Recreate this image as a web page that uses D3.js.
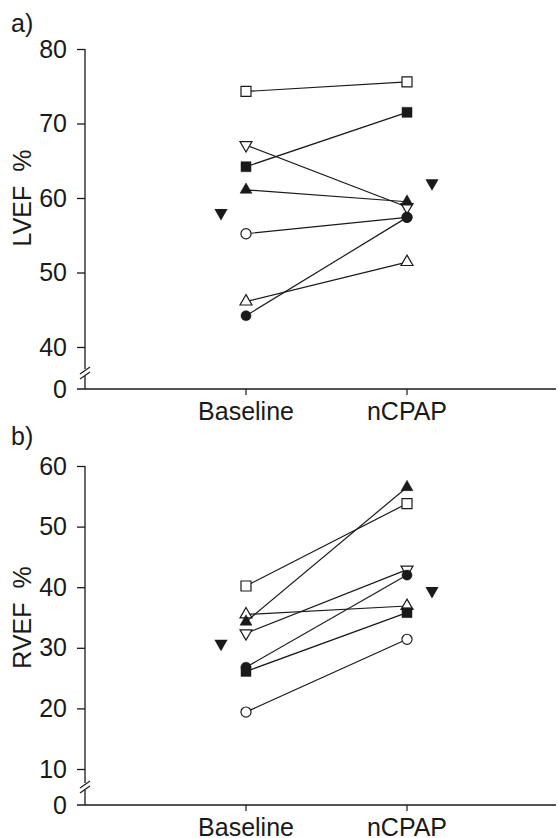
<!DOCTYPE html>
<html>
<head>
<meta charset="utf-8">
<script src="https://cdn.jsdelivr.net/npm/d3@7"></script>
<style>
  body { margin: 0; background: #fff; }
  svg { display: block; font-family: "Liberation Sans Narrow", "Arial Narrow", sans-serif; }
  text { fill: #1a1a1a; }
</style>
</head>
<body>
<svg id="chart" width="558" height="838"></svg>
<script>
// ---- data ----
const categories = ["Baseline", "nCPAP"];
const markers = ["openSquare", "filledSquare", "openDown", "filledUp", "openCircle", "openUp", "filledCircle"];

const lvefBaseline = [74.3, 64.2, 67.1, 61.1, 55.2, 46.1, 44.2];
const lvefCpap     = [75.6, 71.5, 58.8, 59.5, 57.4, 51.4, 57.4];
const lvefMean     = [58.0, 62.0];
const lvefTicks    = [40, 50, 60, 70, 80];

const rvefBaseline = [40.2, 26.1, 32.4, 34.3, 19.4, 35.5, 26.8];
const rvefCpap     = [53.8, 35.8, 42.9, 56.5, 31.4, 36.9, 42.0];
const rvefMean     = [30.7, 39.4];
const rvefTicks    = [10, 20, 30, 40, 50, 60];

const INK = "#1a1a1a";
const FS = 25;
const svg = d3.select("#chart");

const x = d3.scalePoint().domain(categories).range([246, 407]);
const MEAN_OFFSET = 25;

function symbolFor(name) {
  if (name.endsWith("Square")) return { type: d3.symbolSquare, size: 100, rot: 0 };
  if (name.endsWith("Circle")) return { type: d3.symbolCircle, size: 80, rot: 0 };
  if (name.endsWith("Up"))     return { type: d3.symbolTriangle, size: 62, rot: 0 };
  return { type: d3.symbolTriangle, size: 62, rot: 180 };
}

function drawPanel(cfg) {
  const g = svg.append("g");
  const y = d3.scaleLinear().domain(cfg.domain).range(cfg.range);
  const axisX = 85;

  // y axis (ticks + labels)
  const yAxis = d3.axisLeft(y).tickValues(cfg.ticks).tickSize(8).tickPadding(10).tickSizeOuter(0);
  const ya = g.append("g").attr("transform", `translate(${axisX},0)`).call(yAxis);
  ya.select(".domain").remove();
  ya.selectAll("line").attr("stroke", INK).attr("stroke-width", 1.3);
  ya.selectAll("text").attr("font-size", FS).attr("fill", INK).attr("font-family", null);

  // axis spine down to zero, with a break
  const topY = y(cfg.domain[1]);
  const brk = cfg.breakY;
  g.append("line").attr("x1", axisX).attr("x2", axisX).attr("y1", topY).attr("y2", brk - 4)
    .attr("stroke", INK).attr("stroke-width", 1.3);
  g.append("line").attr("x1", axisX).attr("x2", axisX).attr("y1", brk + 3).attr("y2", cfg.zeroY)
    .attr("stroke", INK).attr("stroke-width", 1.3);
  [-2.5, 2.5].forEach(d => {
    g.append("line")
      .attr("x1", axisX - 5).attr("y1", brk + d + 3.5)
      .attr("x2", axisX + 5).attr("y2", brk + d - 3.5)
      .attr("stroke", INK).attr("stroke-width", 1.2);
  });

  // x axis
  g.append("line").attr("x1", axisX - 8).attr("x2", 556).attr("y1", cfg.zeroY).attr("y2", cfg.zeroY)
    .attr("stroke", INK).attr("stroke-width", 1.3);
  g.append("text").attr("x", axisX - 18).attr("y", cfg.zeroY).attr("dy", "0.35em")
    .attr("text-anchor", "end").attr("font-size", FS).text("0");
  categories.forEach(c => {
    g.append("line").attr("x1", x(c)).attr("x2", x(c)).attr("y1", cfg.zeroY).attr("y2", cfg.zeroY + 6)
      .attr("stroke", INK).attr("stroke-width", 1.2);
    g.append("text").attr("x", x(c)).attr("y", cfg.zeroY + 31)
      .attr("text-anchor", "middle").attr("font-size", FS).text(c);
  });

  // y label + panel letter
  const midY = (y(cfg.ticks[0]) + y(cfg.ticks[cfg.ticks.length - 1])) / 2;
  g.append("text").attr("transform", `translate(31,${midY}) rotate(-90)`)
    .attr("text-anchor", "middle").attr("font-size", FS)
    .style("white-space", "pre").text(cfg.label);
  g.append("text").attr("x", 11).attr("y", cfg.letterY).attr("font-size", FS).text(cfg.letter);

  // paired lines
  const pairs = markers.map((m, i) => ({ m, a: cfg.base[i], b: cfg.cpap[i] }));
  g.append("g").selectAll("line").data(pairs).join("line")
    .attr("x1", x(categories[0])).attr("x2", x(categories[1]))
    .attr("y1", d => y(d.a)).attr("y2", d => y(d.b))
    .attr("stroke", INK).attr("stroke-width", 1.2);

  // markers: open first, filled on top
  const pts = [];
  pairs.forEach(p => {
    pts.push({ m: p.m, cx: x(categories[0]), v: p.a });
    pts.push({ m: p.m, cx: x(categories[1]), v: p.b });
  });
  pts.sort((p, q) => (p.m.startsWith("filled") ? 1 : 0) - (q.m.startsWith("filled") ? 1 : 0));
  g.append("g").selectAll("path").data(pts).join("path")
    .attr("d", d => d3.symbol().type(symbolFor(d.m).type).size(symbolFor(d.m).size)())
    .attr("transform", d => `translate(${d.cx},${y(d.v)}) rotate(${symbolFor(d.m).rot})`)
    .attr("fill", d => d.m.startsWith("filled") ? INK : "#fff")
    .attr("stroke", INK).attr("stroke-width", d => d.m.startsWith("filled") ? 0.5 : 1.2);

  // group means (filled inverted triangles, set beside the columns)
  g.append("g").selectAll("path").data(cfg.mean).join("path")
    .attr("d", d3.symbol().type(d3.symbolTriangle).size(75)())
    .attr("transform", (d, i) => `translate(${x(categories[i]) + (i === 0 ? -MEAN_OFFSET : MEAN_OFFSET)},${y(d)}) rotate(180)`)
    .attr("fill", INK);
}

drawPanel({
  domain: [40, 80], range: [347, 49], ticks: lvefTicks, zeroY: 389, breakY: 373,
  base: lvefBaseline, cpap: lvefCpap, mean: lvefMean, label: "LVEF  %", letter: "a)", letterY: 32
});
drawPanel({
  domain: [10, 60], range: [769, 466], ticks: rvefTicks, zeroY: 805, breakY: 787,
  base: rvefBaseline, cpap: rvefCpap, mean: rvefMean, label: "RVEF  %", letter: "b)", letterY: 445
});
</script>
</body>
</html>
